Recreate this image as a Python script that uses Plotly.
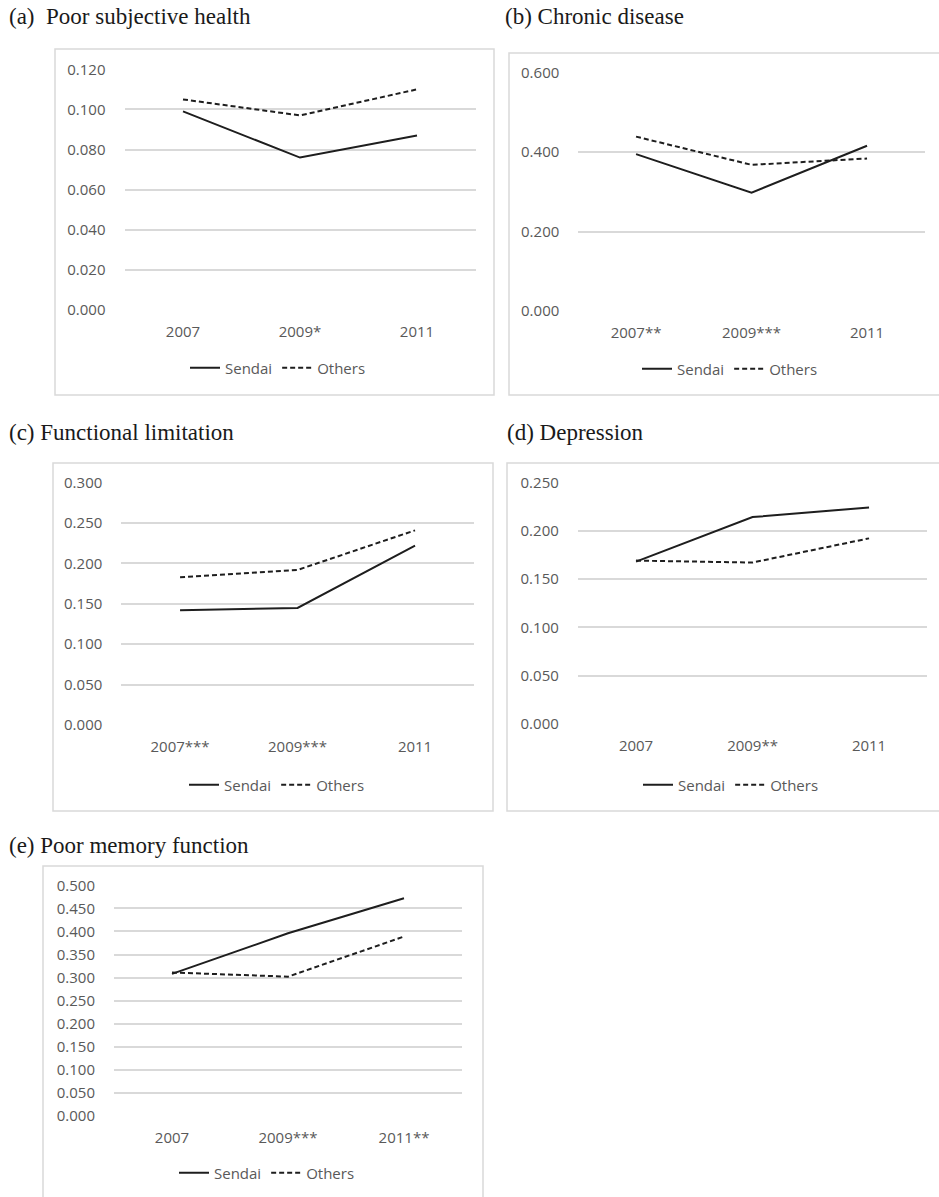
import plotly.graph_objects as go

W, H = 939, 1197

# ---- data -------------------------------------------------------------
years_a = ["2007", "2009*", "2011"]
sendai_a = [0.099, 0.076, 0.087]
others_a = [0.105, 0.097, 0.110]

years_b = ["2007**", "2009***", "2011"]
sendai_b = [0.395, 0.298, 0.416]
others_b = [0.439, 0.368, 0.384]

years_c = ["2007***", "2009***", "2011"]
sendai_c = [0.142, 0.145, 0.222]
others_c = [0.183, 0.192, 0.241]

years_d = ["2007", "2009**", "2011"]
sendai_d = [0.168, 0.214, 0.224]
others_d = [0.169, 0.167, 0.192]

years_e = ["2007", "2009***", "2011**"]
sendai_e = [0.308, 0.396, 0.472]
others_e = [0.311, 0.302, 0.389]

titles = ["(a)  Poor subjective health", "(b) Chronic disease",
          "(c) Functional limitation", "(d) Depression",
          "(e) Poor memory function"]
y_max = [0.12, 0.6, 0.3, 0.25, 0.5]
y_step = [0.02, 0.2, 0.05, 0.05, 0.05]

# ---- layout geometry (pixels) ------------------------------------------
# plot area: x0, x1, y_top, y_bottom
areas = [
    (124.5, 475.5, 69.3, 310.0),
    (578.3, 924.8, 72.7, 311.0),
    (121.3, 473.8, 482.7, 725.0),
    (577.8, 927.3, 482.3, 724.0),
    (114.0, 462.0, 885.3, 1116.0),
]
# outer chart frames: x0, x1, y0, y1
frames = [
    (55, 494, 49, 395),
    (509, 970, 53, 395),
    (53, 493, 463, 811),
    (507, 970, 463, 811),
    (43, 483, 866, 1240),
]
# title positions (left x, middle y)
title_pos = [(7, 16), (503, 16), (7, 432), (505, 432), (7, 845)]
# legend centres
legend_pos = [(278, 368), (730, 369), (277, 785), (731, 785), (267, 1173)]

GRID = "#d9d9d9"
TXT = "#595959"
LINE = "#1e1e1e"
SANS = "Open Sans"

datasets = [
    (years_a, sendai_a, others_a),
    (years_b, sendai_b, others_b),
    (years_c, sendai_c, others_c),
    (years_d, sendai_d, others_d),
    (years_e, sendai_e, others_e),
]

fig = go.Figure()
shapes, annotations = [], []
layout = dict(
    width=W, height=H,
    margin=dict(l=0, r=0, t=0, b=0, autoexpand=False),
    paper_bgcolor="white", plot_bgcolor="white", showlegend=True,
)


def px_x(v):
    return v / W


def px_y(v):
    return 1 - v / H


for i, (years, s_vals, o_vals) in enumerate(datasets):
    n = i + 1
    xa = "x" if n == 1 else f"x{n}"
    ya = "y" if n == 1 else f"y{n}"
    lg = "legend" if n == 1 else f"legend{n}"
    x0, x1, yt, yb = areas[i]

    fig.add_trace(go.Scatter(
        x=years, y=s_vals, mode="lines", name="Sendai",
        line=dict(color=LINE, width=2), xaxis=xa, yaxis=ya, legend=lg,
    ))
    fig.add_trace(go.Scatter(
        x=years, y=o_vals, mode="lines", name="Others",
        line=dict(color=LINE, width=2, dash="5px,3px"),
        xaxis=xa, yaxis=ya, legend=lg,
    ))

    layout["xaxis" if n == 1 else f"xaxis{n}"] = dict(
        domain=[px_x(x0), px_x(x1)], anchor=ya, type="category",
        range=[-0.5, 2.5], showgrid=False, zeroline=False, showline=False,
        ticks="", tickfont=dict(family=SANS, size=15, color=TXT),
        ticklabelstandoff=11, fixedrange=True, automargin=False,
    )
    layout["yaxis" if n == 1 else f"yaxis{n}"] = dict(
        domain=[px_y(yb), px_y(yt)], anchor=xa,
        range=[0, y_max[i]], dtick=y_step[i], tick0=0, tickformat=".3f",
        showgrid=True, gridcolor=GRID, gridwidth=1.5, zeroline=False,
        showline=False, ticks="", ticklabelstandoff=18,
        tickfont=dict(family=SANS, size=15, color=TXT), fixedrange=True,
        automargin=False,
    )
    lx, ly = legend_pos[i]
    layout[lg] = dict(
        orientation="h", x=px_x(lx), y=px_y(ly), xanchor="center",
        yanchor="middle", bgcolor="rgba(0,0,0,0)",
        font=dict(family=SANS, size=15, color=TXT),
    )

    fx0, fx1, fy0, fy1 = frames[i]
    shapes.append(dict(
        type="rect", xref="paper", yref="paper",
        x0=px_x(fx0), x1=px_x(fx1), y0=px_y(fy1), y1=px_y(fy0),
        line=dict(color=GRID, width=1.5), fillcolor="rgba(0,0,0,0)",
        layer="below",
    ))
    tx, ty = title_pos[i]
    annotations.append(dict(
        text=titles[i], xref="paper", yref="paper", x=px_x(tx), y=px_y(ty),
        xanchor="left", yanchor="middle", showarrow=False,
        font=dict(family="Liberation Serif", size=23, color="#1a1a1a"),
    ))

layout["shapes"] = shapes
layout["annotations"] = annotations
fig.update_layout(**layout)

fig.write_html("out.html")
